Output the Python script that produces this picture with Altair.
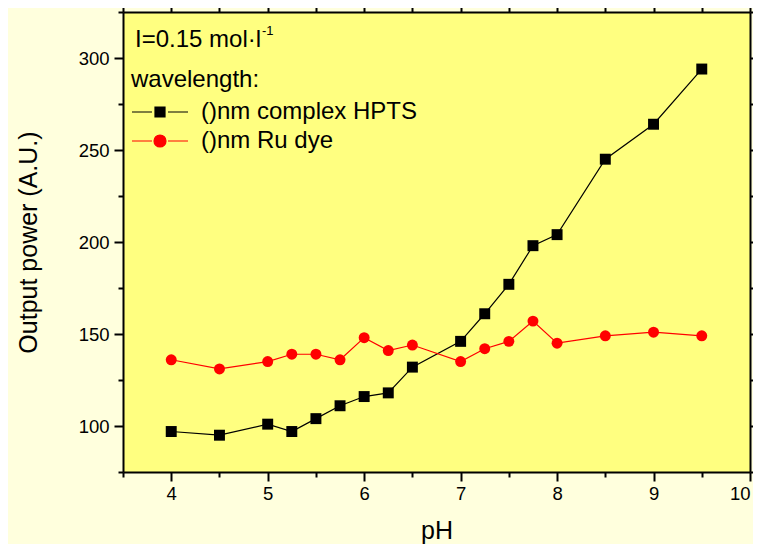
import altair as alt
import pandas as pd

ph = [4, 4.5, 5, 5.25, 5.5, 5.75, 6, 6.25, 6.5, 7, 7.25, 7.5, 7.75, 8, 8.5, 9, 9.5]
hpts = [97, 95, 101, 97, 104, 111, 116, 118, 132, 146, 161, 177, 198, 204, 245, 264, 294]
ru = [136, 131, 135, 139, 139, 136, 148, 141, 144, 135, 142, 146, 157, 145, 149, 151, 149]

series_names = ["()nm complex HPTS", "()nm Ru dye"]
series_colors = ["#000000", "#FF0000"]
marker_shapes = ["square", "circle"]
legend_shapes = [
    "M-2.8,0H-0.8M-0.5,-0.5H0.5V0.5H-0.5ZM0.8,0H2.8",
    "M-2.8,0H-0.8M0.6,0A0.6,0.6,0,1,1,-0.6,0A0.6,0.6,0,1,1,0.6,0ZM0.8,0H2.8",
]

x_ticks = [3.5, 4, 4.5, 5, 5.5, 6, 6.5, 7, 7.5, 8, 8.5, 9, 9.5, 10]
y_ticks = [75, 100, 125, 150, 175, 200, 225, 250, 275, 300, 325]

df = pd.DataFrame({
    "pH": ph * 2,
    "power": hpts + ru,
    "series": [series_names[0]] * len(ph) + [series_names[1]] * len(ph),
})

FONT = "Liberation Sans"
xscale = alt.Scale(domain=[3.5, 10], nice=False, zero=False)
yscale = alt.Scale(domain=[75, 325], nice=False, zero=False)
cscale = alt.Scale(domain=series_names, range=series_colors)

tick_cond = {"condition": {"test": "datum.value % 1 != 0 || (datum.value > 20 && datum.value % 50 != 0)", "value": 5}, "value": 9}

common_axis = dict(
    domainColor="black", domainWidth=2, tickColor="black", tickWidth=2,
    grid=False, labelFont=FONT, titleFont=FONT, labelColor="black", titleColor="black",
    titleFontWeight="normal",
)

x_bottom = alt.X("pH:Q", scale=xscale, axis=alt.Axis(
    values=x_ticks, orient="bottom", title="pH", labelFontSize=18.5, titleFontSize=25,
    labelExpr="datum.value % 1 ? '' : format(datum.value, 'd')", tickSize=tick_cond, labelPadding=3,
    titlePadding=16, **common_axis))
y_left = alt.Y("power:Q", scale=yscale, axis=alt.Axis(
    values=y_ticks, orient="left", title="Output power (A.U.)", labelFontSize=18.5, titleFontSize=25,
    labelExpr="datum.value % 50 ? '' : datum.label", tickSize=tick_cond, labelPadding=5,
    titlePadding=37, **common_axis))
x_top = alt.X("pH:Q", scale=xscale, axis=alt.Axis(
    values=x_ticks, orient="top", title=None, labels=False, tickSize=tick_cond, **common_axis))
y_right = alt.Y("power:Q", scale=yscale, axis=alt.Axis(
    values=y_ticks, orient="right", title=None, labels=False, tickSize=tick_cond, **common_axis))

lines = alt.Chart(df).mark_line(strokeWidth=1.2).encode(
    x=x_bottom, y=y_left,
    color=alt.Color("series:N", scale=cscale, legend=None),
    detail="series:N",
)

points = alt.Chart(df).mark_point(filled=True, opacity=1, size=120).encode(
    x=alt.X("pH:Q", scale=xscale, axis=None),
    y=alt.Y("power:Q", scale=yscale, axis=None),
    color=alt.Color("series:N", scale=cscale, legend=None),
    shape=alt.Shape("series:N", scale=alt.Scale(domain=series_names, range=marker_shapes), legend=None),
)

frame = alt.Chart(df).mark_line(strokeOpacity=0).encode(x=x_top, y=y_right, detail="series:N")

leg = alt.Legend(
    orient="none", legendX=25, legendY=88, title=None, labelFont=FONT, labelFontSize=24,
    labelColor="black", symbolSize=400, symbolStrokeWidth=1.2, labelOffset=29,
    rowPadding=5, padding=0, symbolOpacity=1, labelLimit=0,
)
legend_layer = alt.Chart(df).transform_filter("false").mark_point(filled=True, opacity=1).encode(
    x=alt.X("pH:Q", scale=xscale, axis=None),
    y=alt.Y("power:Q", scale=yscale, axis=None),
    color=alt.Color("series:N", scale=cscale, legend=leg),
    stroke=alt.Stroke("series:N", scale=cscale, legend=leg),
    shape=alt.Shape("series:N", scale=alt.Scale(domain=series_names, range=legend_shapes), legend=leg),
)

one = "datum.pH == 4 && datum.power < 120"
title_main = alt.Chart(df).transform_filter(one).mark_text(
    align="left", baseline="middle", font=FONT, fontSize=24, color="black"
).encode(x=alt.value(12), y=alt.value(28), text=alt.value("I=0.15 mol·l"))
title_sup = alt.Chart(df).transform_filter(one).mark_text(
    align="left", baseline="middle", font=FONT, fontSize=13, color="black"
).encode(x=alt.value(139), y=alt.value(19), text=alt.value("-1"))
title_wl = alt.Chart(df).transform_filter(one).mark_text(
    align="left", baseline="middle", font=FONT, fontSize=24, color="black"
).encode(x=alt.value(8), y=alt.value(68), text=alt.value("wavelength:"))

chart = alt.layer(frame, lines, points, legend_layer, title_main, title_sup, title_wl).resolve_axis(
    x="independent", y="independent"
).resolve_scale(
    color="independent", shape="independent", stroke="independent"
).properties(
    width=627, height=460, background="#FFFFDD",
    padding={"left": 115, "top": 4, "right": 3, "bottom": 72},
    autosize=alt.AutoSizeParams(type="none"),
).configure_view(fill="#FFFF80", stroke=None)

chart.save("out.html", embed_options={"renderer": "svg", "actions": False})
